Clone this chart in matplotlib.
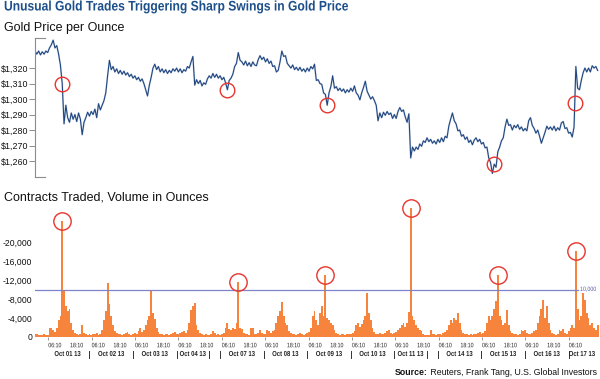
import numpy as np
import matplotlib
matplotlib.use("Agg")
import matplotlib.pyplot as plt
import matplotlib.transforms as mtransforms
from matplotlib.transforms import Affine2D
from matplotlib.patheffects import AbstractPathEffect

# ---------------- data (hourly, trading hours since Sep 30 18:00) ----------------
price = [
    1331, 1329, 1331, 1328.5, 1330.5, 1329,
    1331, 1330, 1333, 1335, 1338, 1333, 1334.5, 1329, 1322, 1310, 1284, 1296,
    1288, 1285, 1291, 1287, 1290, 1285.5, 1291, 1287, 1277, 1285, 1288, 1291.5,
    1289, 1292, 1290, 1293.5, 1288, 1297, 1293, 1296, 1299, 1304, 1315, 1325,
    1319, 1321, 1317.5, 1319.5, 1316.5, 1318.5, 1316, 1318, 1315.5, 1317, 1314.5, 1316,
    1313.5, 1315, 1312.5, 1314, 1311.5, 1313, 1310, 1306, 1302, 1309, 1314, 1320,
    1322.5, 1319, 1321, 1317.5, 1319.5, 1317, 1319, 1316.5, 1318.5, 1317, 1319.5, 1318,
    1320, 1317.5, 1319.5, 1317, 1319, 1318, 1321, 1320, 1324, 1327.5, 1309, 1312.5,
    1310, 1312, 1308.5, 1310.5, 1309.5, 1313,
    1315, 1313.5, 1316.5, 1314, 1316, 1313.5,
    1315, 1312.5, 1314, 1310.5, 1306, 1312, 1313.5, 1316, 1321, 1323, 1330, 1325,
    1324, 1322, 1324.5, 1321.5, 1323.5, 1321, 1324, 1322, 1321.5, 1325.5, 1328, 1325.5,
    1327, 1324, 1326, 1323, 1324.5, 1321, 1321.5, 1317.5, 1318.5, 1324, 1331, 1327.5,
    1328, 1323, 1321.5, 1320, 1322, 1319, 1320.5, 1318.5, 1320.5, 1318, 1319.5, 1317.5,
    1320, 1318, 1321, 1319.5, 1322.5, 1312, 1312.5, 1310, 1309.5, 1304, 1303, 1296,
    1304, 1308, 1315, 1307, 1308, 1305.5, 1307, 1305, 1306.5, 1304, 1306, 1304.5,
    1307, 1305, 1308.5, 1304, 1302.5, 1299.5, 1304, 1307.5, 1311.5, 1305, 1302.5, 1300,
    1301.5, 1299, 1296, 1286, 1291, 1288, 1291.5, 1289.5, 1292, 1290, 1291, 1287.5,
    1290, 1287.5, 1292, 1294.5, 1292, 1293, 1288.5, 1285, 1290.5, 1262, 1269, 1266.5,
    1269, 1267.5, 1271, 1269.5, 1273, 1272,
    1275, 1272.5, 1274, 1271.5, 1273, 1271,
    1274, 1272, 1275, 1272.5, 1276, 1275, 1282.5, 1287, 1291, 1286, 1284, 1279.5,
    1280, 1276, 1277, 1274, 1275.5, 1272, 1273.5, 1270.5, 1273.5, 1275, 1272.5, 1274,
    1271, 1272, 1268.5, 1269, 1262, 1259, 1252, 1258, 1256, 1266, 1269, 1273,
    1275, 1282, 1287, 1283, 1283.5, 1280, 1283, 1281.5, 1283.5, 1280.5, 1282, 1279.5,
    1281, 1279.5, 1286, 1288, 1283, 1281, 1278, 1280, 1276, 1271.5, 1275, 1278.5,
    1282.5, 1280.5, 1282, 1280, 1282.5, 1279.5, 1281.5, 1280, 1284.5, 1285.5, 1281, 1281.5,
    1278, 1278.5, 1275.5, 1282, 1321, 1307, 1306, 1312, 1317, 1320, 1317.5, 1320,
    1317.5, 1321.5, 1320, 1321, 1318.5,
]

volume = [
    600, 700, 500, 400, 500, 600,
    500, 400, 1800, 2000, 1500, 1000, 1900, 3500, 4500, 24400, 9800, 6500,
    5500, 5800, 3000, 1500, 800, 600, 500, 700, 2500, 800, 600, 500,
    600, 500, 700, 600, 800, 500, 600, 1500, 3500, 5500, 11400, 7000,
    4500, 2500, 1200, 800, 600, 700, 500, 600, 800, 1000, 600, 500,
    600, 800, 700, 1200, 1800, 1000, 1500, 2500, 3500, 4500, 9900, 5000,
    3800, 2000, 1000, 700, 600, 500, 600, 700, 500, 600, 800, 1000,
    700, 600, 800, 1000, 1200, 900, 1500, 3000, 5700, 6500, 7100, 2500,
    1500, 800, 600, 500, 600, 400,
    400, 600, 1200, 800, 500, 600,
    500, 700, 900, 1800, 3000, 1600, 1500, 1800, 1600, 3000, 11600, 2000,
    1600, 800, 600, 700, 500, 1800, 1800, 700, 600, 800, 1500, 800,
    600, 700, 1500, 1200, 800, 1200, 1500, 3000, 4500, 5500, 7400, 4500,
    3000, 2500, 1200, 800, 600, 700, 500, 600, 800, 600, 500, 700,
    800, 1000, 2000, 4500, 5500, 3500, 2500, 5000, 6500, 4500, 13000, 4000,
    3500, 3000, 2500, 1500, 800, 600, 500, 700, 600, 500, 600, 700,
    600, 800, 1200, 2500, 3000, 2200, 2800, 3500, 4500, 9200, 5000, 3500,
    2000, 1000, 700, 600, 800, 600, 700, 900, 1200, 1500, 900, 700,
    800, 1000, 1500, 2000, 2500, 3000, 2200, 3000, 5200, 27100, 4500, 3500,
    2500, 2000, 1500, 1200, 700, 500,
    400, 500, 1500, 700, 600, 500,
    600, 700, 500, 800, 1000, 1500, 2500, 3500, 3000, 4000, 3500, 5000,
    3000, 1500, 800, 600, 700, 500, 600, 500, 700, 600, 800, 1000,
    700, 800, 1200, 3000, 4500, 3500, 4500, 6000, 7500, 13000, 4500, 3500,
    2500, 3000, 5700, 2500, 1200, 800, 600, 700, 500, 600, 1500, 1200,
    1500, 800, 600, 700, 900, 1200, 1500, 3000, 4500, 6000, 7800, 4000,
    6500, 3000, 1500, 800, 600, 500, 700, 1500, 1200, 1600, 900, 700,
    1200, 1800, 2500, 2000, 18100, 6000, 3500, 4500, 9200, 7700, 5000, 4000,
    2500, 3000, 2000, 1500, 2500,
]

day_labels = ["Oct 01 13", "Oct 02 13", "Oct 03 13", "Oct 04 13", "Oct 07 13",
              "Oct 08 13", "Oct 09 13", "Oct 10 13", "Oct 11 13", "Oct 14 13",
              "Oct 15 13", "Oct 16 13", "Oct 17 13"]
day_start_h = [6, 30, 54, 78, 102, 126, 150, 174, 198, 222, 246, 270, 294]
day_end_h = [30, 54, 78, 96, 126, 150, 174, 198, 216, 246, 270, 294, 311]

price_ticks = [1260, 1270, 1280, 1290, 1300, 1310, 1320]
volume_ticks = [0, 4000, 8000, 12000, 16000, 20000]
volume_tick_labels = ["0", "-4,000", "-8,000", "-12,000", "-16,000", "-20,000"]
time_tick_labels = ["06:10", "18:10"]
threshold = 10000

price_circle_h = [15, 106, 161, 253, 297.4]
volume_circle_h = [15, 112, 160, 207, 255, 298]


# ---------------- narrow-text helper (horizontal squeeze of glyph paths) ----------------
class Squeeze(AbstractPathEffect):
    def __init__(self, sx=0.82, anchor='left'):
        super().__init__()
        self.sx = sx
        self.anchor = anchor

    def draw_path(self, renderer, gc, tpath, affine, rgbFace=None):
        ext = tpath.get_extents()
        if self.anchor == 'right':
            a = ext.x1
        elif self.anchor == 'center':
            a = 0.5 * (ext.x0 + ext.x1)
        else:
            a = 0.0
        t = Affine2D().translate(-a, 0).scale(self.sx, 1.0).translate(a, 0)
        renderer.draw_path(gc, tpath, t + affine, rgbFace)


FONT = ['Liberation Sans', 'DejaVu Sans']
BLUE_LINE = '#21467f'
ORANGE = '#f6843c'
RED = '#e8342c'
TITLE_BLUE = '#1d4f8a'

W, H = 600, 379
plt.rcParams['font.family'] = FONT
fig = plt.figure(figsize=(6, 3.79), dpi=100)


def fx(px):
    return px / W


def fy(py):
    return 1 - py / H


hours = np.arange(len(price))
XMAX = 311.3

# ---------------- price axes ----------------
axp = fig.add_axes([fx(35), fy(177), fx(565), 139 / H])
axp.plot(hours, price, color='#8fa9d0', lw=1.4, alpha=0.35, solid_joinstyle='round')
axp.plot(hours, price, color=BLUE_LINE, lw=0.8, solid_joinstyle='round')
axp.set_xlim(0, XMAX)
axp.set_ylim(1249.7, 1339.4)
for s in ['top', 'right', 'bottom']:
    axp.spines[s].set_visible(False)
axp.spines['left'].set_color('#8c8c8c')
axp.spines['left'].set_linewidth(0.8)
axp.set_xticks([])
axp.set_yticks(price_ticks)
axp.set_yticklabels(['$' + f'{v:,}' for v in price_ticks], fontsize=6.4)
axp.tick_params(axis='y', length=4, width=0.7, color='#8c8c8c', pad=1, labelcolor='#111111')
for yy in (0, 1):
    axp.plot([0, 10 / 565], [yy, yy], transform=axp.transAxes, color='#8c8c8c',
             lw=0.8, clip_on=False)
pc_y = np.interp(price_circle_h, hours, price)
axp.plot(price_circle_h, pc_y, linestyle='none', marker='o', markersize=10.5,
         markerfacecolor='none', markeredgecolor=RED, markeredgewidth=1.0, zorder=5)

# ---------------- volume axes ----------------
axv = fig.add_axes([fx(35), fy(337), fx(565), 137 / H])
axv.bar(hours, volume, width=1.0, color=ORANGE, linewidth=0, align='center')
axv.set_xlim(0, XMAX)
axv.set_ylim(0, 137 * 4000 / 19)
for s in ['top', 'right', 'left', 'bottom']:
    axv.spines[s].set_visible(False)
axv.axhline(threshold, xmin=0, xmax=(578 - 35) / 565, color='#7f83c9', lw=0.9, zorder=3)
axv.text((580 - 35) / 565, threshold, "10,000",
         transform=mtransforms.blended_transform_factory(axv.transAxes, axv.transData),
         fontsize=4.5, color='#5a5ea8', va='center', ha='left',
         path_effects=[Squeeze(0.85, 'left')])
axv.set_yticks(volume_ticks)
axv.set_yticklabels(volume_tick_labels, fontsize=6.2)
axv.tick_params(axis='y', length=0, pad=2, labelcolor='#111111')

vc_y = [volume[h] for h in volume_circle_h]
axv.plot(volume_circle_h, vc_y, linestyle='none', marker='o', markersize=12.5,
         markerfacecolor='none', markeredgecolor=RED, markeredgewidth=1.0, zorder=5,
         clip_on=False)

# time tick labels (uniform spacing) and day marks
n_lab = 25
lab_pos = 11.0 + 11.95 * np.arange(n_lab)
axv.set_xticks(lab_pos)
axv.set_xticklabels([time_tick_labels[i % 2] for i in range(n_lab)], fontsize=4.6,
                    path_effects=[Squeeze(0.82, 'center')])
axv.tick_params(axis='x', length=0, pad=4.5, labelcolor='#222222')
mark_pos = 7.3 + 23.9 * np.arange(13)
axv.set_xticks(mark_pos, minor=True)
axv.tick_params(axis='x', which='minor', length=2.5, width=0.6, color='#888888', direction='out')

# date labels and separators
bt = mtransforms.blended_transform_factory(axv.transData, fig.transFigure)
sep_positions = sorted(set(day_start_h[1:]) | {day_end_h[3], day_end_h[8]})
for s in sep_positions:
    axv.plot([s, s], [fy(351), fy(358)], transform=bt, color='#333333', lw=0.7, clip_on=False)
for lbl, a, b in zip(day_labels, day_start_h, day_end_h):
    cx = (a + b) / 2
    if lbl == "Oct 17 13":
        cx = a + 7.4
    axv.text(cx, fy(354.5), lbl, transform=bt, ha='center', va='center',
             fontsize=5.2, fontweight='bold', color='#222222',
             path_effects=[Squeeze(0.82, 'center')])

# ---------------- titles ----------------
fig.text(fx(4), fy(10.5), "Unusual Gold Trades Triggering Sharp Swings in Gold Price",
         fontsize=10, fontweight='bold', color=TITLE_BLUE, va='baseline',
         path_effects=[Squeeze(0.87, 'left')])
fig.text(fx(4), fy(30.5), "Gold Price per Ounce", fontsize=9, color='#111111',
         va='baseline')
fig.text(fx(4), fy(200.5), "Contracts Traded, Volume in Ounces", fontsize=9,
         color='#111111', va='baseline')

# source line
renderer = fig.canvas.get_renderer()
t_reg = fig.text(fx(597), fy(375), " Reuters, Frank Tang, U.S. Global Investors",
                 fontsize=6.3, ha='right', va='baseline', color='#111111')
bb = t_reg.get_window_extent(renderer)
fig.text(bb.x0 / fig.bbox.width, fy(375), "Source:", fontsize=6.3,
         fontweight='bold', ha='right', va='baseline', color='#111111')

fig.savefig("out.png", dpi=100)
